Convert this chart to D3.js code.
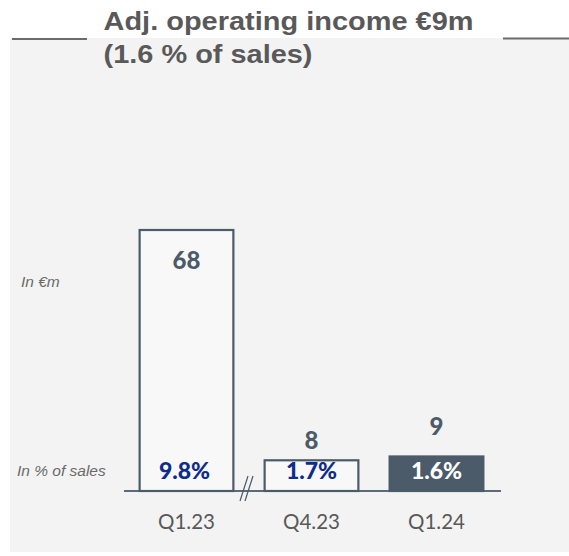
<!DOCTYPE html>
<html>
<head>
<meta charset="utf-8">
<script src="https://cdn.jsdelivr.net/npm/d3@7"></script>
<style>
  html, body { margin: 0; padding: 0; background: #ffffff; }
  svg { display: block; }
</style>
</head>
<body>
<div id="chart"></div>
<script>
// ---- data ----
const categories = ["Q1.23", "Q4.23", "Q1.24"];
const values = [68, 8, 9];
const pctLabels = ["9.8%", "1.7%", "1.6%"];
const titleLines = ["Adj. operating income €9m", "(1.6 % of sales)"];
const sideLabels = ["In €m", "In % of sales"];

// ---- layout ----
const W = 569, H = 556;
const baseY = 491, topY = 230;
const valueLabelDy = [39, -11, -21];

const svg = d3.select("#chart").append("svg").attr("width", W).attr("height", H);

// panel background
svg.append("rect").attr("x", 10).attr("y", 38).attr("width", W - 10).attr("height", 514).attr("fill", "#f3f3f3");

// title rules
svg.append("line").attr("x1", 12).attr("x2", 87).attr("y1", 39).attr("y2", 39).attr("stroke", "#6b6b6b").attr("stroke-width", 2);
svg.append("line").attr("x1", 503).attr("x2", 569).attr("y1", 38.5).attr("y2", 38.5).attr("stroke", "#6b6b6b").attr("stroke-width", 2);

// title
const titleLens = [370, 209];
svg.selectAll("text.title").data(titleLines).enter().append("text")
  .attr("class", "title")
  .attr("x", 103.5)
  .attr("y", (d, i) => 30 + i * 33)
  .attr("textLength", (d, i) => titleLens[i])
  .attr("lengthAdjust", "spacingAndGlyphs")
  .style("font-family", "'Liberation Sans', Arial, sans-serif")
  .style("font-weight", "bold")
  .style("font-size", "26px")
  .attr("fill", "#595959")
  .text(d => d);

// scales
const x = d3.scaleBand().domain(categories).range([124, 499]).paddingInner(0.25).paddingOuter(0.125);
const y = d3.scaleLinear().domain([0, 68]).range([baseY, topY]);

// side labels
svg.selectAll("text.side").data(sideLabels).enter().append("text")
  .attr("class", "side")
  .attr("x", (d, i) => i === 0 ? 21 : 17)
  .attr("y", (d, i) => i === 0 ? 287 : 476)
  .style("font-family", "'Liberation Sans', Arial, sans-serif")
  .style("font-style", "italic")
  .style("font-size", "15.5px")
  .attr("fill", "#6a6a6a")
  .text(d => d);

// axis baseline
svg.append("line").attr("x1", 124).attr("x2", 501).attr("y1", baseY).attr("y2", baseY)
  .attr("stroke", "#5b6b78").attr("stroke-width", 2);

// bars
const barColor = "#4b5b69";
svg.selectAll("rect.bar").data(values).enter().append("rect")
  .attr("class", "bar")
  .attr("x", (d, i) => x(categories[i]))
  .attr("width", x.bandwidth())
  .attr("y", d => y(d))
  .attr("height", d => baseY - y(d))
  .attr("fill", (d, i) => i === 2 ? barColor : "#f8f8f8")
  .attr("stroke", barColor)
  .attr("stroke-width", 2.2);

// break marks
const brk = svg.append("g").attr("stroke", barColor).attr("stroke-width", 1.2);
[0, 5].forEach(off => {
  brk.append("line").attr("x1", 248 + off).attr("y1", 476).attr("x2", 240 + off).attr("y2", 501);
});

// value labels
svg.selectAll("text.val").data(values).enter().append("text")
  .attr("class", "val")
  .attr("x", (d, i) => x(categories[i]) + x.bandwidth() / 2)
  .attr("y", (d, i) => y(d) + valueLabelDy[i])
  .attr("text-anchor", "middle")
  .style("font-family", "Lato, 'Open Sans', sans-serif")
  .style("font-weight", "900")
  .style("font-size", "24px")
  .attr("fill", barColor)
  .text(d => d);

// percentage labels
svg.selectAll("text.pct").data(pctLabels).enter().append("text")
  .attr("class", "pct")
  .attr("x", (d, i) => x(categories[i]) + x.bandwidth() / 2 - (i === 0 ? 2 : 0))
  .attr("y", 479)
  .attr("text-anchor", "middle")
  .style("font-family", "Lato, 'Open Sans', sans-serif")
  .style("font-weight", "900")
  .style("font-size", "23px")
  .attr("fill", (d, i) => i === 2 ? "#ffffff" : "#0f2b8c")
  .text(d => d);

// category labels
svg.selectAll("text.cat").data(categories).enter().append("text")
  .attr("class", "cat")
  .attr("x", d => x(d) + x.bandwidth() / 2)
  .attr("y", 529)
  .attr("text-anchor", "middle")
  .style("font-family", "Lato, 'Open Sans', sans-serif")
  .style("font-size", "20.5px")
  .attr("fill", "#595959")
  .text(d => d);
</script>
</body>
</html>
